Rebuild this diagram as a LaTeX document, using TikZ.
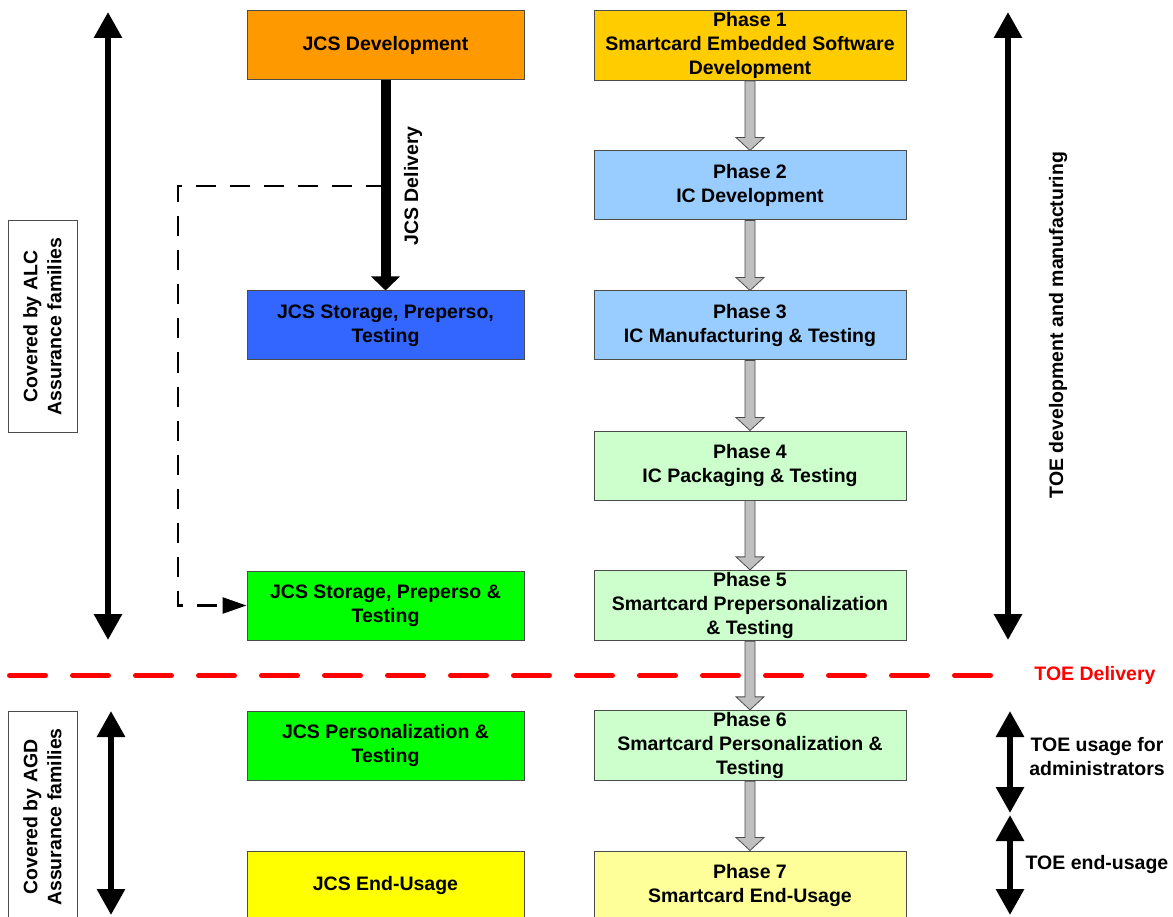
\documentclass[tikz,border=0pt]{standalone}
\usepackage{fontspec}
\setmainfont{Liberation Sans}
\usetikzlibrary{arrows.meta,calc}

\definecolor{jcsorange}{HTML}{FF9900}
\definecolor{jcsblue}{HTML}{3366FF}
\definecolor{jcsgreen}{HTML}{00FF00}
\definecolor{jcsyellow}{HTML}{FFFF00}
\definecolor{phaseorange}{HTML}{FFCC00}
\definecolor{phaseblue}{HTML}{99CCFF}
\definecolor{phasegreen}{HTML}{CCFFCC}
\definecolor{phaseyellow}{HTML}{FFFF99}
\definecolor{blockgray}{HTML}{C0C0C0}

\begin{document}
\begin{tikzpicture}
                [
                    x=1pt,y=-1pt,
                    every node/.style={font=\bfseries\fontsize{19.5}{24}\selectfont},
                    jcsbox/.style={rectangle,fill=#1,draw=black!70,line width=1pt,minimum width=277,minimum height=69,align=center,inner sep=2pt},
                    phasebox/.style={rectangle,fill=#1,draw=black!70,line width=1pt,minimum width=312,minimum height=69,align=center,inner sep=2pt},
                    sidebox/.style={rectangle,draw=black!70,line width=1pt,rotate=90,minimum width=212,minimum height=69,align=center},
                    span/.style={{Triangle[width=27pt,length=26pt]}-{Triangle[width=27pt,length=26pt]},line width=6pt},
                    delivery/.style={-{Triangle[width=28pt,length=14pt]},line width=10pt},
                    dashline/.style={-{Triangle[width=16pt,length=24pt]},line width=2.5pt,dash pattern=on 20pt off 14pt},
                    toeline/.style={draw=red,line width=5pt,line cap=round,dash pattern=on 36pt off 27pt},
                ]
                \useasboundingbox (0,0) rectangle (1173,917);
                \clip (0,0) rectangle (1173,917);

                % left column
                \node[jcsbox=jcsorange] (jcsdev) at (385.5,45.5) {JCS Development};
                \node[jcsbox=jcsblue] (jcsstore) at (385.5,325.5) {JCS Storage, Preperso,\\Testing};
                \node[jcsbox=jcsgreen] (jcsprep) at (385.5,605.5) {JCS Storage, Preperso \&\\Testing};
                \node[jcsbox=jcsgreen] (jcspers) at (385.5,745.5) {JCS Personalization \&\\Testing};
                \node[jcsbox=jcsyellow] (jcsend) at (385.5,885.5) {JCS End-Usage};

                % right column
                \node[phasebox=phaseorange] (p1) at (750,45.5) {Phase 1\\Smartcard Embedded Software\\Development};
                \node[phasebox=phaseblue] (p2) at (750,185.5) {Phase 2\\IC Development};
                \node[phasebox=phaseblue] (p3) at (750,325.5) {Phase 3\\IC Manufacturing \& Testing};
                \node[phasebox=phasegreen] (p4) at (750,465.5) {Phase 4\\IC Packaging \& Testing};
                \node[phasebox=phasegreen] (p5) at (750,605.5) {Phase 5\\Smartcard Prepersonalization\\\& Testing};
                \node[phasebox=phasegreen] (p6) at (750,745.5) {Phase 6\\Smartcard Personalization \&\\Testing};
                \node[phasebox=phaseyellow] (p7) at (750,885.5) {Phase 7\\Smartcard End-Usage};

                % delivery line
                \draw[toeline] (9.5,675.5) -- (1000,675.5);
                \node[text=red] (toedel) at (1095,675.5) {TOE Delivery};

                % phase arrows
                \foreach \a/\b in {p1/p2,p2/p3,p3/p4,p4/p5,p5/p6,p6/p7}
                    \draw[fill=blockgray,draw=black!70,line width=0.8pt]
                        ($(\a.south)+(-5,0)$) -- ($(\b.north)+(-5,-13)$) -- ($(\b.north)+(-14,-13)$)
                        -- (\b.north) -- ($(\b.north)+(14,-13)$) -- ($(\b.north)+(5,-13)$)
                        -- ($(\a.south)+(5,0)$) -- cycle;

                % JCS delivery
                \draw[delivery] (jcsdev.south) -- (jcsstore.north);
                \node[rotate=90] (jcsdellabel) at (413,186) {JCS Delivery};
                \coordinate (split) at (385.5,186);
                \coordinate (corner) at (178,186);
                \draw[dashline] (split) -- (corner) |- (jcsprep.west);

                % side boxes
                \node[sidebox] (alc) at (42.5,326.5) {Covered by ALC\\Assurance families};
                \node[sidebox] (agd) at (42.5,817) {Covered by AGD\\Assurance families};

                % spans
                \coordinate (alctop) at (108,12);
                \coordinate (alcbot) at (108,640);
                \coordinate (agdtop) at (111,711);
                \coordinate (agdbot) at (111,915);
                \coordinate (devtop) at (1008,12);
                \coordinate (devbot) at (1008,640);
                \coordinate (admtop) at (1010,711);
                \coordinate (admbot) at (1010,813);
                \coordinate (endtop) at (1010,815);
                \coordinate (endbot) at (1010,915);
                \draw[span] (alctop) -- (alcbot);
                \draw[span] (agdtop) -- (agdbot);
                \draw[span] (devtop) -- (devbot);
                \draw[span] (admtop) -- (admbot);
                \draw[span] (endtop) -- (endbot);
                \node[rotate=90] (devlabel) at (1058,325) {TOE development and manufacturing};
                \node[align=center] (admlabel) at (1097,757) {TOE usage for\\administrators};
                \node (endlabel) at (1097,864) {TOE end-usage};
            \end{tikzpicture}
\end{document}
